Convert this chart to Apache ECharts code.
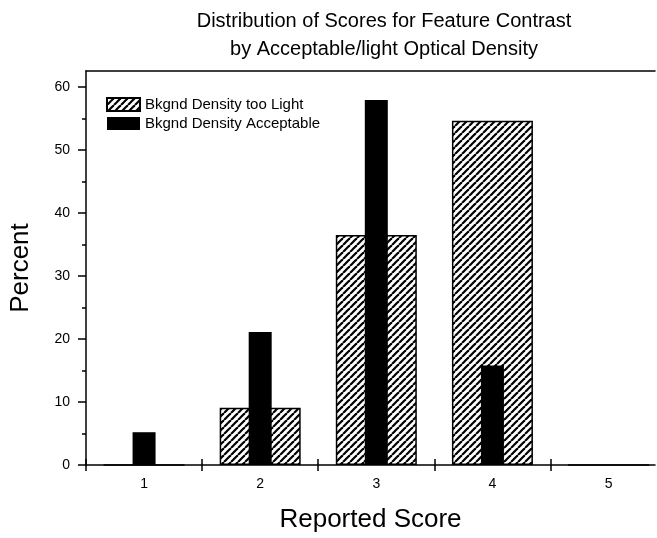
<!DOCTYPE html>
<html><head><meta charset="utf-8">
<script src="https://cdn.jsdelivr.net/npm/echarts@6/dist/echarts.min.js"></script>
<style>html,body{margin:0;padding:0;background:#fff}#c{width:657px;height:538px}</style>
</head><body><div id="c"></div>
<script>
const scores = [1, 2, 3, 4, 5];
const tooLight = [0, 9.1, 36.5, 54.6, 0];
const acceptable = [5.2, 21.1, 57.9, 15.8, 0];
const xTickBounds = [0.5, 1.5, 2.5, 3.5, 4.5];
const yTicks = [0, 10, 20, 30, 40, 50, 60];
const yMinorTicks = [5, 15, 25, 35, 45, 55];
const seriesNames = ['Bkgnd Density too Light', 'Bkgnd Density Acceptable'];
const titleLines = ['Distribution of Scores for Feature Contrast', 'by Acceptable/light Optical Density'];

const FONT = '"Liberation Sans", Arial, Helvetica, sans-serif';

function hatch() {
  const t = 7, c = document.createElement('canvas');
  c.width = t; c.height = t;
  const g = c.getContext('2d');
  g.fillStyle = '#fff'; g.fillRect(0, 0, t, t);
  g.strokeStyle = '#000'; g.lineWidth = 2.2;
  for (let k = -1; k <= 1; k++) { g.beginPath(); g.moveTo(k * t, t); g.lineTo(k * t + t, 0); g.stroke(); }
  return c;
}

const chart = echarts.init(document.getElementById('c'), null, { renderer: 'canvas' });
const black = '#000';
const xBase = { type: 'value', min: 0.5, max: 5.4, splitLine: { show: false } };
const yBase = { type: 'value', min: 0, max: 62.5, splitLine: { show: false } };

chart.setOption({
  animation: false,
  backgroundColor: '#fff',
  textStyle: { fontFamily: FONT, color: black },
  graphic: [{
    type: 'text', x: 384, y: 7,
    style: { text: titleLines.join('\n'), font: '20px ' + FONT, fill: black, align: 'center', lineHeight: 28 }
  }],
  legend: {
    data: seriesNames, orient: 'vertical', left: 101, top: 92,
    itemWidth: 33, itemHeight: 13, itemGap: 4, icon: 'rect',
    textStyle: { fontSize: 15, color: black, fontFamily: FONT }
  },
  grid: { left: 84, right: 2, top: 71, bottom: 68, containLabel: false },
  xAxis: [
    Object.assign({}, xBase, {
      position: 'bottom',
      axisLine: { show: true, lineStyle: { color: black, width: 1.5 } },
      axisTick: { show: true, customValues: xTickBounds, length: 6, lineStyle: { color: black, width: 1.5 } },
      axisLabel: { customValues: scores, fontSize: 14, color: black, margin: 12, fontFamily: FONT },
      name: 'Reported Score', nameLocation: 'middle', nameGap: 42,
      nameTextStyle: { fontSize: 26, color: black, fontFamily: FONT }
    }),
    Object.assign({}, xBase, {
      position: 'bottom',
      axisLine: { show: false },
      axisTick: { show: true, inside: true, customValues: xTickBounds, length: 6, lineStyle: { color: black, width: 1.5 } },
      axisLabel: { show: false }
    }),
    Object.assign({}, xBase, {
      position: 'top',
      axisLine: { show: true, lineStyle: { color: black, width: 1.5 } },
      axisTick: { show: false }, axisLabel: { show: false }
    })
  ],
  yAxis: [
    Object.assign({}, yBase, {
      position: 'left',
      axisLine: { show: true, lineStyle: { color: black, width: 1.5 } },
      axisTick: { show: true, customValues: yTicks, length: 8, lineStyle: { color: black, width: 1.5 } },
      axisLabel: { customValues: yTicks, fontSize: 14, color: black, margin: 16, fontFamily: FONT },
      name: 'Percent', nameLocation: 'middle', nameGap: 52,
      nameTextStyle: { fontSize: 26, color: black, fontFamily: FONT }
    }),
    Object.assign({}, yBase, {
      position: 'left',
      axisLine: { show: false },
      axisTick: { show: true, customValues: yMinorTicks, length: 4, lineStyle: { color: black, width: 1.5 } },
      axisLabel: { show: false }
    })
  ],
  series: [
    {
      type: 'bar', name: seriesNames[0], xAxisIndex: 0, yAxisIndex: 0,
      data: scores.map((s, i) => [s, tooLight[i]]),
      barWidth: 81, z: 2,
      itemStyle: { color: { image: hatch(), repeat: 'repeat' }, borderColor: black, borderWidth: 1.5 }
    },
    {
      type: 'bar', name: seriesNames[1], xAxisIndex: 1, yAxisIndex: 0,
      data: scores.map((s, i) => [s, acceptable[i]]),
      barWidth: 23, z: 3,
      itemStyle: { color: black }
    }
  ]
});
</script>
</body></html>
